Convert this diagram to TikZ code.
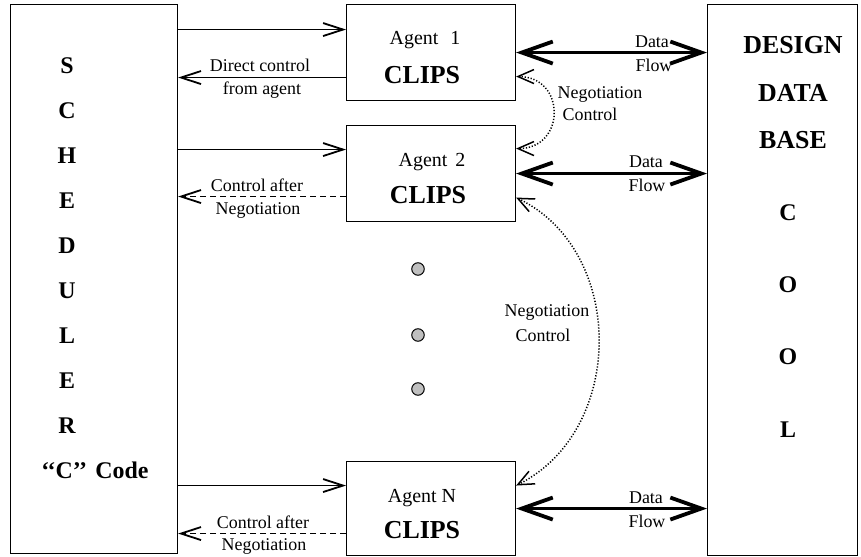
\documentclass[tikz,border=0pt]{standalone}
\usepackage{fontspec}
\setmainfont{Liberation Serif}
\usetikzlibrary{arrows.meta}
\begin{document}
\begin{tikzpicture}[x=1bp,y=-1bp,
  box/.style={draw,line width=1.1bp,inner sep=0pt,anchor=north west,rectangle},
  lbl/.style={inner sep=0pt,font=\fontsize{18}{20}\selectfont},
  agentname/.style={inner sep=0pt,font=\fontsize{20}{22}\selectfont},
  clips/.style={inner sep=0pt,font=\fontsize{26}{28}\selectfont\bfseries},
  bigletter/.style={inner sep=0pt,font=\fontsize{24}{26}\selectfont\bfseries},
  ctl/.style={line width=1.8bp,-{Straight Barb[length=20bp,width=13bp,line width=1.8bp]}},
  ctldash/.style={ctl,dash pattern=on 6bp off 4bp},
  dataflow/.style={line width=3.8bp,{Straight Barb[length=31bp,width=22bp,line width=3.8bp]}-{Straight Barb[length=31bp,width=22bp,line width=3.8bp]}},
  nego/.style={line width=1.5bp,dash pattern=on 1.2bp off 1.8bp,
    {Straight Barb[length=16bp,width=14bp,line width=1.5bp]}-{Straight Barb[length=16bp,width=14bp,line width=1.5bp]}},
  moredot/.style={circle,draw,line width=1bp,fill=black!25,minimum size=12.5bp,inner sep=0pt}]
\useasboundingbox (0,0) rectangle (861,557);

% main blocks
\node[box,minimum width=167bp,minimum height=549bp] (sched) at (10,4) {};
\node[box,minimum width=169bp,minimum height=96bp] (a1) at (346,4) {};
\node[box,minimum width=169bp,minimum height=96bp] (a2) at (346,125) {};
\node[box,minimum width=169bp,minimum height=94bp] (aN) at (346,461) {};
\node[box,minimum width=150bp,minimum height=551bp] (db) at (707,4) {};

% scheduler lettering
\foreach \ch [count=\i] in {S,C,H,E,D,U,L,E,R}
  \node[bigletter] (sl\i) at (67,{66+44.9*(\i-1)}) {\ch};
\node[bigletter] (ccode) at (95,470) {‘‘C’’\hspace{0.1em} Code};

% design data base lettering
\node[clips] (dbl1) at (793,45) {DESIGN};
\node[clips] (dbl2) at (793,93) {DATA};
\node[clips] (dbl3) at (793,140) {BASE};
\node[bigletter] (cool1) at (788,213) {C};
\node[bigletter] (cool2) at (788,285) {O};
\node[bigletter] (cool3) at (788,357) {O};
\node[bigletter] (cool4) at (788,430) {L};

% agent captions
\node[agentname] (t1) at (425,40) {Agent\hspace{0.6em}1};
\node[clips] (c1) at (422,75) {CLIPS};
\node[agentname] (t2) at (432,162) {Agent\hspace{0.4em}2};
\node[clips] (c2) at (428,195) {CLIPS};
\node[agentname] (tN) at (422,498) {Agent N};
\node[clips] (cN) at (422,530) {CLIPS};

% scheduler <-> agents
\draw[ctl] ([yshift=23bp]a1.west -| sched.east) -- ([yshift=23bp]a1.west);
\draw[ctl] ([yshift=-25bp]a1.west) -- ([yshift=-25bp]a1.west -| sched.east);
\draw[ctl] ([yshift=24bp]a2.west -| sched.east) -- ([yshift=24bp]a2.west);
\draw[ctldash] ([yshift=-23bp]a2.west) -- ([yshift=-23bp]a2.west -| sched.east);
\draw[ctl] ([yshift=23bp]aN.west -| sched.east) -- ([yshift=23bp]aN.west);
\draw[ctldash] ([yshift=-25bp]aN.west) -- ([yshift=-25bp]aN.west -| sched.east);

\node[lbl] (l1a) at (260,65) {Direct control};
\node[lbl] (l1b) at (262,90) {from agent};
\node[lbl] (l2a) at (257,185) {Control after};
\node[lbl] (l2b) at (258,210) {Negotiation};
\node[lbl] (lNa) at (263,522) {Control after};
\node[lbl] (lNb) at (264,546) {Negotiation};

% agents <-> data base
\draw[dataflow] (a1.east) -- (a1.east -| db.west);
\draw[dataflow] (a2.east) -- (a2.east -| db.west);
\draw[dataflow] (aN.east) -- (aN.east -| db.west);
\node[lbl] (d1a) at (652,42) {Data};
\node[lbl] (d1b) at (654,65) {Flow};
\node[lbl] (d2a) at (646,162) {Data};
\node[lbl] (d2b) at (647,185) {Flow};
\node[lbl] (dNa) at (646,498) {Data};
\node[lbl] (dNb) at (647,521) {Flow};

% negotiation between agents
\draw[nego] ([yshift=-24bp]a1.east) .. controls +(50,0) and +(50,0) .. ([yshift=25bp]a2.east);
\draw[nego] ([yshift=-24bp]a2.east) .. controls +(110,53) and +(110,-55) .. ([yshift=23bp]aN.east);
\node[lbl] (n1a) at (600,95) {Negotiation};
\node[lbl] (n1b) at (590,114) {Control};
\node[lbl] (n2a) at (547,312) {Negotiation};
\node[lbl] (n2b) at (543,335) {Control};

% further agents
\node[moredot] (m1) at (418,269) {};
\node[moredot] (m2) at (418,335) {};
\node[moredot] (m3) at (418,389) {};
\end{tikzpicture}
\end{document}
